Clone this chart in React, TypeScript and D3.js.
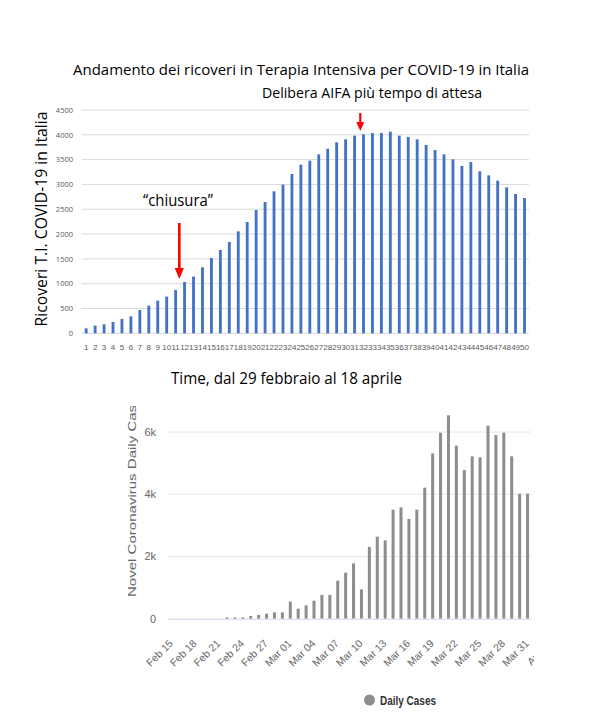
import React from "react";
import * as d3 from "d3";

// ---------- Top chart data ----------
const dayIndex: number[] = d3.range(1, 51);
const icuValues: number[] = [
  100, 155, 181, 228, 289, 342, 470, 557, 658, 739,
  873, 1034, 1142, 1330, 1518, 1679, 1840, 2055, 2243, 2485,
  2646, 2861, 2995, 3210, 3398, 3479, 3606, 3720, 3848, 3909,
  3983, 4009, 4036, 4036, 4063, 3983, 3956, 3909, 3794, 3694,
  3606, 3506, 3371, 3452, 3264, 3183, 3076, 2941, 2807, 2727,
];
const icuTicks: number[] = [0, 500, 1000, 1500, 2000, 2500, 3000, 3500, 4000, 4500];

// ---------- Bottom chart data ----------
const dates: string[] = [
  "Feb 15", "Feb 16", "Feb 17", "Feb 18", "Feb 19", "Feb 20", "Feb 21",
  "Feb 22", "Feb 23", "Feb 24", "Feb 25", "Feb 26", "Feb 27", "Feb 28", "Feb 29",
  "Mar 01", "Mar 02", "Mar 03", "Mar 04", "Mar 05", "Mar 06", "Mar 07", "Mar 08",
  "Mar 09", "Mar 10", "Mar 11", "Mar 12", "Mar 13", "Mar 14", "Mar 15", "Mar 16",
  "Mar 17", "Mar 18", "Mar 19", "Mar 20", "Mar 21", "Mar 22", "Mar 23", "Mar 24",
  "Mar 25", "Mar 26", "Mar 27", "Mar 28", "Mar 29", "Mar 30", "Mar 31",
];
const dailyCases: number[] = [
  0, 0, 0, 0, 0, 0, 0,
  43, 43, 43, 86, 118, 161, 204, 204,
  547, 322, 429, 579, 761, 761, 1222, 1479,
  1779, 943, 2304, 2636, 2518, 3504, 3579, 3204,
  3504, 4211, 5314, 5979, 6536, 5561, 4779, 5218,
  5186, 6204, 5904, 5979, 5218, 4018, 4018,
];
const caseTicks: number[] = [0, 2000, 4000, 6000];
const caseTickLabels: string[] = ["0", "2k", "4k", "6k"];
const dateTickLabels: string[] = [
  "Feb 15", "Feb 18", "Feb 21", "Feb 24", "Feb 27", "Mar 01", "Mar 04", "Mar 07",
  "Mar 10", "Mar 13", "Mar 16", "Mar 19", "Mar 22", "Mar 25", "Mar 28", "Mar 31", "Apr 03",
];

const FONT_TOP = "'Open Sans', 'Noto Sans', sans-serif";
const FONT_BOT = "'Liberation Sans', Arial, sans-serif";

export default function App() {
  // top scales
  const xTop = d3.scaleBand<number>().domain(dayIndex).range([81.7, 529]).paddingInner(0.68).paddingOuter(0.34);
  const yTop = d3.scaleLinear().domain([0, 4500]).range([333.3, 110]);
  const xTopC = (d: number) => (xTop(d) as number) + xTop.bandwidth() / 2;

  // bottom scales
  const xBot = d3.scaleBand<string>().domain(dates).range([167.7, 531.5]).paddingInner(0.62).paddingOuter(0.31);
  const yBot = d3.scaleLinear().domain([0, 6000]).range([618.7, 432]);
  const step = xBot.step();
  const xBotC0 = (xBot(dates[0]) as number) + xBot.bandwidth() / 2;

  const arrow = (x: number, y1: number, y2: number, hw: number, hh: number, sw: number) => (
    <g>
      <line x1={x} x2={x} y1={y1} y2={y2 - hh + 1} stroke="#ff0000" strokeWidth={sw} />
      <path d={`M${x - hw},${y2 - hh} L${x + hw},${y2 - hh} L${x},${y2} Z`} fill="#ff0000" />
    </g>
  );

  return (
    <svg width={600} height={721} style={{ position: "absolute", left: 0, top: 0, background: "#fff" }}>
      <defs>
        <clipPath id="botClip">
          <rect x={0} y={406} width={534} height={315} />
        </clipPath>
      </defs>
      <rect x={0} y={0} width={600} height={721} fill="#fff" />

      {/* ---------- TOP CHART ---------- */}
      <text x={73} y={75} fontFamily={FONT_TOP} fontSize={15} fill="#000" textLength={456} lengthAdjust="spacingAndGlyphs">
        Andamento dei ricoveri in Terapia Intensiva per COVID-19 in Italia
      </text>
      <text x={262} y={98} fontFamily={FONT_TOP} fontSize={14} fill="#000" textLength={220} lengthAdjust="spacingAndGlyphs">
        Delibera AIFA più tempo di attesa
      </text>

      {icuTicks.map((t) => (
        <g key={"gt" + t}>
          <line x1={81.7} x2={529} y1={yTop(t)} y2={yTop(t)} stroke="#d9d9d9" strokeWidth={1} />
          <text x={73} y={yTop(t) + 2.7} textAnchor="end" fontFamily={FONT_TOP} fontSize={7.5} fill="#595959">
            {t}
          </text>
        </g>
      ))}

      {icuValues.map((v, i) => (
        <rect
          key={"b" + i}
          x={xTop(dayIndex[i]) as number}
          y={yTop(v)}
          width={xTop.bandwidth()}
          height={yTop(0) - yTop(v)}
          fill="#4472c4"
        />
      ))}

      {dayIndex.map((d) => (
        <text key={"xl" + d} x={xTopC(d)} y={350} textAnchor="middle" fontFamily={FONT_BOT} fontSize={8} fill="#595959">
          {d}
        </text>
      ))}

      <text
        transform="translate(47,219) rotate(-90)"
        textAnchor="middle"
        fontFamily={FONT_TOP}
        fontSize={16.5}
        fill="#000"
        textLength={215}
        lengthAdjust="spacingAndGlyphs"
      >
        Ricoveri T.I. COVID-19 in Italia
      </text>

      <text x={143} y={206} fontFamily={FONT_TOP} fontSize={16} fill="#000" textLength={70} lengthAdjust="spacingAndGlyphs">
        “chiusura”
      </text>

      {arrow(179.3, 223, 279, 4.6, 11, 2.6)}
      {arrow(360.3, 113, 131, 4, 9, 2.2)}

      <text x={171} y={384} fontFamily={FONT_TOP} fontSize={15.5} fill="#000" textLength={231} lengthAdjust="spacingAndGlyphs">
        Time, dal 29 febbraio al 18 aprile
      </text>

      {/* ---------- BOTTOM CHART ---------- */}
      <g clipPath="url(#botClip)">
        {caseTicks.map((t) =>
          t === 0 ? null : (
            <line key={"bg" + t} x1={167.7} x2={531.5} y1={yBot(t)} y2={yBot(t)} stroke="#e6e6e6" strokeWidth={1} />
          )
        )}
        {caseTicks.map((t, i) => (
          <text key={"bl" + t} x={156} y={yBot(t) + 4} textAnchor="end" fontFamily={FONT_BOT} fontSize={11} fill="#666">
            {caseTickLabels[i]}
          </text>
        ))}

        {dailyCases.map((v, i) =>
          v > 0 ? (
            <rect
              key={"c" + i}
              x={xBot(dates[i]) as number}
              y={yBot(v)}
              width={xBot.bandwidth()}
              height={yBot(0) - yBot(v)}
              fill="#8d8d8d"
            />
          ) : null
        )}

        <line x1={167.7} x2={531.5} y1={yBot(0) + 0.5} y2={yBot(0) + 0.5} stroke="#ccd6eb" strokeWidth={1} />

        {dateTickLabels.map((lab, k) => {
          const x = xBotC0 + k * 3 * step;
          return (
            <text
              key={"dl" + k}
              transform={`translate(${x + 2},${644}) rotate(-45)`}
              textAnchor="end"
              fontFamily={FONT_BOT}
              fontSize={10.5}
              fill="#666"
            >
              {lab}
            </text>
          );
        })}

        <text
          transform="translate(135.5,597) rotate(-90)"
          fontFamily={FONT_BOT}
          fontSize={11.5}
          fill="#666"
          textLength={208}
          lengthAdjust="spacingAndGlyphs"
        >
          Novel Coronavirus Daily Cases
        </text>
      </g>

      <circle cx={369.5} cy={700} r={5.5} fill="#8d8d8d" />
      <text x={380} y={705} fontFamily={FONT_BOT} fontSize={12} fontWeight="bold" fill="#333" textLength={56} lengthAdjust="spacingAndGlyphs">
        Daily Cases
      </text>
    </svg>
  );
}
